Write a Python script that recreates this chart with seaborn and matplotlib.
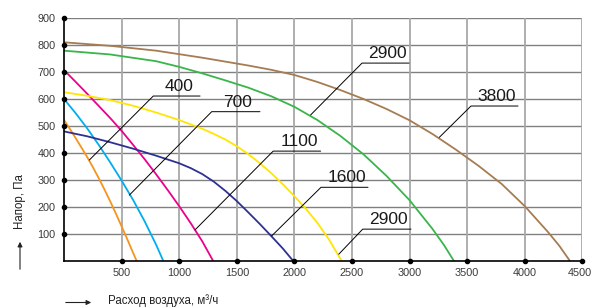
import matplotlib
matplotlib.use("Agg")
import matplotlib.pyplot as plt
import matplotlib.transforms as mtransforms
import seaborn as sb
import pandas as pd

# fan curves: flow (m3/h) vs pressure (Pa)
curve_names = ["400", "700", "1100", "1600", "2900 (1)", "2900 (2)", "3800"]
curve_colors = ["#f7941d", "#00aeef", "#ec008c", "#2e3192", "#ffe600", "#39b54a", "#a67c52"]

flow_400 = [0, 50, 100, 150, 200, 250, 300, 350, 400, 450, 500, 550, 600, 631]
pres_400 = [522, 490, 456, 421, 386, 348, 308, 266, 222, 176, 128, 80, 30, 0]

flow_700 = [0, 100, 200, 300, 400, 500, 600, 700, 800, 862]
pres_700 = [600, 548, 492, 431, 366, 298, 226, 147, 60, 0]

flow_1100 = [0, 100, 200, 300, 400, 500, 600, 700, 800, 900, 1000, 1100, 1200, 1295]
pres_1100 = [707, 664, 620, 575, 530, 482, 430, 377, 321, 263, 203, 140, 73, 0]

flow_1600 = [0, 200, 400, 600, 800, 1000, 1100, 1200, 1300, 1400, 1500, 1600, 1700, 1800, 1900, 1990]
pres_1600 = [480, 462, 440, 416, 390, 362, 344, 322, 294, 260, 222, 180, 137, 92, 46, 0]

flow_2900a = [0, 200, 400, 600, 800, 1000, 1200, 1300, 1400, 1500, 1600, 1700, 1800, 1900, 2000,
              2100, 2200, 2300, 2410]
pres_2900a = [625, 612, 596, 575, 550, 522, 490, 471, 450, 425, 396, 362, 325, 284, 240,
              193, 141, 80, 0]

flow_2900b = [0, 400, 800, 1000, 1200, 1400, 1600, 1800, 2000, 2200, 2400, 2600, 2800, 3000,
              3200, 3300, 3385]
pres_2900b = [779, 765, 740, 719, 695, 669, 642, 610, 571, 522, 463, 395, 315, 225,
              118, 58, 0]

flow_3800 = [0, 400, 800, 1200, 1600, 1800, 2000, 2200, 2400, 2600, 2800, 3000, 3200, 3400,
             3600, 3800, 4000, 4200, 4300, 4392]
pres_3800 = [810, 797, 779, 753, 724, 708, 689, 663, 633, 600, 563, 521, 470, 413,
             352, 285, 203, 108, 56, 0]

x_ticks = [0, 500, 1000, 1500, 2000, 2500, 3000, 3500, 4000, 4500]
y_ticks = [0, 100, 200, 300, 400, 500, 600, 700, 800, 900]

# callouts: text, point on curve, underline start x, underline end x, underline y
callouts = [
    ("400", (220, 374), 775, 1181, 611),
    ("700", (567, 244), 1282, 1701, 553),
    ("1100", (1137, 115), 1816, 2228, 407),
    ("1600", (1803, 93), 2231, 2639, 273),
    ("2900", (2385, 25), 2593, 3012, 118),
    ("2900", (2141, 541), 2587, 2995, 733),
    ("3800", (3258, 458), 3533, 3941, 574),
]

flows = [flow_400, flow_700, flow_1100, flow_1600, flow_2900a, flow_2900b, flow_3800]
pressures = [pres_400, pres_700, pres_1100, pres_1600, pres_2900a, pres_2900b, pres_3800]
rows = []
for name, fl, pr in zip(curve_names, flows, pressures):
    for f, p in zip(fl, pr):
        rows.append({"flow": f, "pressure": p, "curve": name})
df = pd.DataFrame(rows)

sb.set_style("white")
plt.rcParams["font.family"] = ["Liberation Sans", "DejaVu Sans"]

fig = plt.figure(figsize=(5.93, 3.08), dpi=100)
ax = fig.add_axes([64 / 593, 47 / 308, 518.4 / 593, 243 / 308])

ax.set_xlim(0, 4500)
ax.set_ylim(0, 900)
ax.set_xticks(x_ticks)
ax.set_yticks(y_ticks)
ax.set_xticklabels([""] + [str(v) for v in x_ticks[1:]])
ax.set_yticklabels([""] + [str(v) for v in y_ticks[1:]])
ax.tick_params(length=0, labelsize=7.8, labelcolor="#3a3a3a")
ax.tick_params(axis="x", pad=5)
ax.tick_params(axis="y", pad=6)
last = ax.get_xticklabels()[-1]
last.set_transform(last.get_transform() + mtransforms.ScaledTranslation(-3 / 100, 0, fig.dpi_scale_trans))

for v in y_ticks[1:]:
    ax.axhline(v, color="#808080", lw=1.0, zorder=1)
for v in x_ticks[1:]:
    ax.axvline(v, color="#a8a8a8", lw=1.3, zorder=1)

sb.lineplot(data=df, x="flow", y="pressure", hue="curve", hue_order=curve_names,
            palette=curve_colors, estimator=None, sort=False, lw=1.3,
            legend=False, ax=ax, zorder=3)

for txt, (cx, cy), ux0, ux1, uy in callouts:
    ax.plot([cx, ux0, ux1], [cy, uy, uy], color="black", lw=0.7, zorder=4)
    ax.annotate(txt, xy=((ux0 + ux1) / 2, uy), xytext=(1.5, 1.5), textcoords="offset points",
                ha="center", va="bottom", fontsize=12.5, color="#1a1a1a", zorder=5)

for s in ["top", "right"]:
    ax.spines[s].set_visible(False)
for s in ["left", "bottom"]:
    ax.spines[s].set_color("black")
    ax.spines[s].set_linewidth(1.2)
    ax.spines[s].set_zorder(6)

ax.scatter(x_ticks[1:], [0] * 9, s=9, color="black", clip_on=False, zorder=7)
ax.scatter([0] * 9, y_ticks[1:], s=9, color="black", clip_on=False, zorder=7)

ax.set_xlabel("")
ax.set_ylabel("")

fig.text(20 / 593, 1 - 202 / 308, "Напор, Па", rotation=90, ha="center", va="center",
         fontsize=8.3, color="#222222")
fig.text(108 / 593, 1 - 301 / 308, "Расход воздуха, м³/ч", ha="left", va="center",
         fontsize=8.3, color="#222222")
fig.add_artist(matplotlib.patches.FancyArrowPatch(
    (20 / 593, 1 - 272 / 308), (20 / 593, 1 - 239 / 308), transform=fig.transFigure,
    arrowstyle="-|>", mutation_scale=7, lw=0.8, color="#222222"))
fig.add_artist(matplotlib.patches.FancyArrowPatch(
    (63 / 593, 1 - 302.5 / 308), (94 / 593, 1 - 302.5 / 308), transform=fig.transFigure,
    arrowstyle="-|>", mutation_scale=7, lw=0.8, color="#222222"))

plt.savefig("out.png", dpi=100)
